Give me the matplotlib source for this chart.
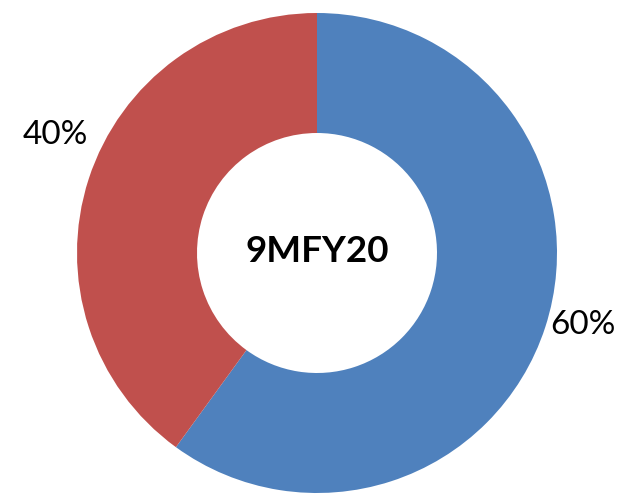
import matplotlib
matplotlib.use("Agg")
import matplotlib.pyplot as plt

categories = ["A", "B"]
values = [60, 40]
labels = ["60%", "40%"]
colors = ["#4F81BD", "#C0504D"]
center_title = "9MFY20"

fig = plt.figure(figsize=(6.18, 4.94), dpi=100)
ax = fig.add_axes([0, 0, 1, 1])

cx, cy, R = 317, 494 - 253, 240
ax.pie(values, colors=colors, startangle=90, counterclock=False,
       center=(cx, cy), radius=R, wedgeprops=dict(width=R * 0.5, linewidth=0),
       frame=True)
ax.set_xlim(0, 618)
ax.set_ylim(0, 494)
ax.set_aspect("equal")
ax.axis("off")

font = ["Lato", "DejaVu Sans"]
ax.text(cx, cy + 2, center_title, ha="center", va="center", fontsize=26.5,
        fontweight="bold", family=font)
ax.text(583, 494 - 325, labels[0], ha="center", va="center", fontsize=24, family=font)
ax.text(55, 494 - 135, labels[1], ha="center", va="center", fontsize=24, family=font)

fig.savefig("out.png", dpi=100)
